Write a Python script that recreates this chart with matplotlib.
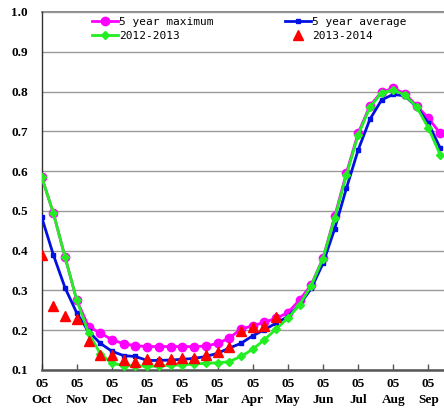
import matplotlib
matplotlib.use("Agg")
import matplotlib.pyplot as plt
from matplotlib.lines import Line2D

months = ["Oct", "Nov", "Dec", "Jan", "Feb", "Mar", "Apr", "May", "Jun", "Jul", "Aug", "Sep"]
tick_day = "05"

max5 = [0.585, 0.494, 0.383, 0.275, 0.209, 0.193, 0.176, 0.166, 0.161, 0.159, 0.159, 0.159,
        0.159, 0.159, 0.160, 0.167, 0.180, 0.203, 0.211, 0.220, 0.230, 0.244, 0.276, 0.314,
        0.381, 0.486, 0.595, 0.695, 0.764, 0.799, 0.808, 0.795, 0.764, 0.733, 0.695]
avg5 = [0.484, 0.389, 0.306, 0.243, 0.197, 0.167, 0.147, 0.136, 0.134, 0.124, 0.124, 0.125,
        0.127, 0.129, 0.134, 0.142, 0.155, 0.167, 0.186, 0.201, 0.218, 0.234, 0.264, 0.305,
        0.368, 0.455, 0.557, 0.653, 0.730, 0.779, 0.793, 0.789, 0.761, 0.720, 0.658]
y1213 = [0.585, 0.494, 0.383, 0.275, 0.193, 0.141, 0.117, 0.111, 0.111, 0.109, 0.110, 0.112,
         0.113, 0.115, 0.117, 0.118, 0.121, 0.134, 0.152, 0.176, 0.203, 0.230, 0.264, 0.312,
         0.380, 0.482, 0.590, 0.691, 0.760, 0.797, 0.804, 0.791, 0.761, 0.708, 0.641]
y1314 = [0.389, 0.260, 0.237, 0.228, 0.172, 0.138, 0.138, 0.126, 0.121, 0.127, 0.123, 0.127,
         0.129, 0.131, 0.138, 0.144, 0.159, 0.197, 0.208, 0.211, 0.233]

W, H = 444, 409
fig = plt.figure(figsize=(W / 100, H / 100), dpi=100)
left, right, top, bottom = 41.7, 444, 12, 370
ax = fig.add_axes([left / W, 1 - bottom / H, (right - left) / W, (bottom - top) / H])

x = list(range(len(max5)))
xr = list(range(len(y1314)))

ax.plot(x, max5, color="#FF00FF", lw=2, marker="o", ms=6, zorder=3)
ax.plot(x, avg5, color="#0010E0", lw=2, marker="s", ms=3, zorder=4)
ax.plot(x, y1213, color="#22EE22", lw=2, marker="D", ms=4.5, zorder=5)
ax.plot(xr, y1314, color="#FF0000", lw=0, marker="^", ms=7.5, zorder=6)

ax.set_xlim(0, (right - left) / 11.72)
ax.set_ylim(0.1, 1.0)
ax.set_yticks([0.1 * k for k in range(1, 11)])
ax.set_yticklabels([f"{0.1 * k:.1f}" for k in range(1, 11)])
ax.set_xticks([3 * k for k in range(len(months))])
ax.set_xticklabels([f"{tick_day}\n{m}" for m in months], linespacing=1.4)

for lab in ax.get_xticklabels() + ax.get_yticklabels():
    lab.set_fontfamily("Liberation Serif")
    lab.set_fontweight("bold")
    lab.set_fontsize(9.5)

ax.tick_params(axis="x", direction="in", length=4, width=1, color="#555555", pad=6)
ax.tick_params(axis="y", length=0, pad=10)

ax.grid(axis="y", color="#999999", lw=1)
ax.axhline(1.0, color="#777777", lw=1.2, clip_on=False, zorder=0.5)
ax.set_axisbelow(True)
for s in ["top", "right"]:
    ax.spines[s].set_visible(False)
ax.spines["left"].set_color("#333333")
ax.spines["left"].set_linewidth(1)
ax.spines["bottom"].set_color("#555555")
ax.spines["bottom"].set_linewidth(1.8)

h_max = Line2D([], [], color="#FF00FF", lw=2, marker="o", ms=6)
h_avg = Line2D([], [], color="#0010E0", lw=2, marker="s", ms=3)
h_1213 = Line2D([], [], color="#22EE22", lw=2, marker="D", ms=4)
h_1314 = Line2D([], [], color="#FF0000", lw=0, marker="^", ms=7)

kw = dict(loc="upper left", frameon=False, borderpad=0, borderaxespad=0,
          handlelength=2.3, handletextpad=0.15, labelspacing=0.35,
          prop={"family": "DejaVu Sans Mono", "size": 8})
leg1 = fig.legend([h_max, h_1213], ["5 year maximum", "2012-2013"],
                  bbox_to_anchor=(92 / W, 1 - 17 / H), **kw)
leg2 = fig.legend([h_avg, h_1314], ["5 year average", "2013-2014"],
                  bbox_to_anchor=(285 / W, 1 - 17 / H), **kw)

fig.savefig("out.png", dpi=100)
